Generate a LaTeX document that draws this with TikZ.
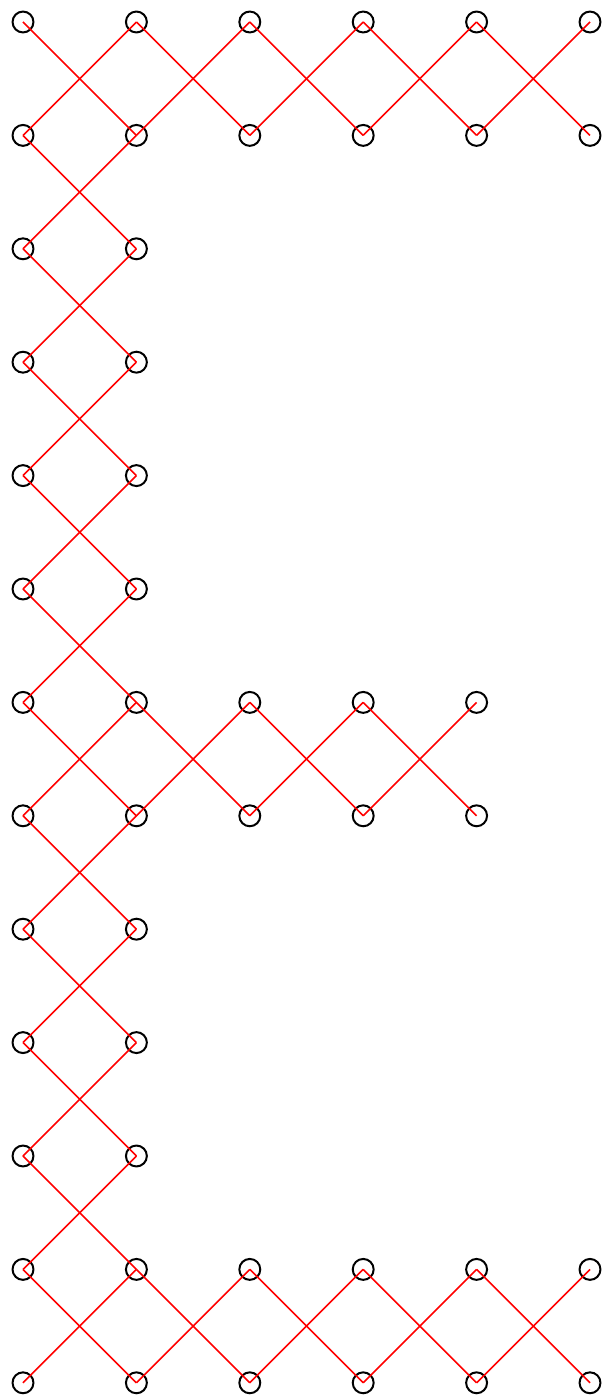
\documentclass[tikz,border=0pt]{standalone}
\usepackage{tikz}

\begin{document}
\begin{tikzpicture}[x=2cm,y=-2cm,
  pin/.style={draw,circle,line width=1pt,minimum size=10.5pt,inner sep=0pt},
  strand/.style={red,line width=0.8pt}]
  \useasboundingbox (-0.2028,-0.194) rectangle (5.1058,12.143);
  % pins of the E, row by row (last column in each row)
  \foreach \r/\n in {0/5,1/5,2/1,3/1,4/1,5/1,6/4,7/4,8/1,9/1,10/1,11/5,12/5}
    \foreach \c in {0,...,\n}
      \node[pin] (p\c-\r) at (\c,\r) {};
  % crossings between two rows
  \foreach \r/\n in {0/4,1/0,2/0,3/0,4/0,5/0,6/3,7/0,8/0,9/0,10/0,11/4}
    \foreach \c in {0,...,\n} {
      \pgfmathtruncatemacro\cc{\c+1}
      \pgfmathtruncatemacro\rr{\r+1}
      \draw[strand] (p\c-\r.center) -- (p\cc-\rr.center);
      \draw[strand] (p\cc-\r.center) -- (p\c-\rr.center);
    }
\end{tikzpicture}
\end{document}
